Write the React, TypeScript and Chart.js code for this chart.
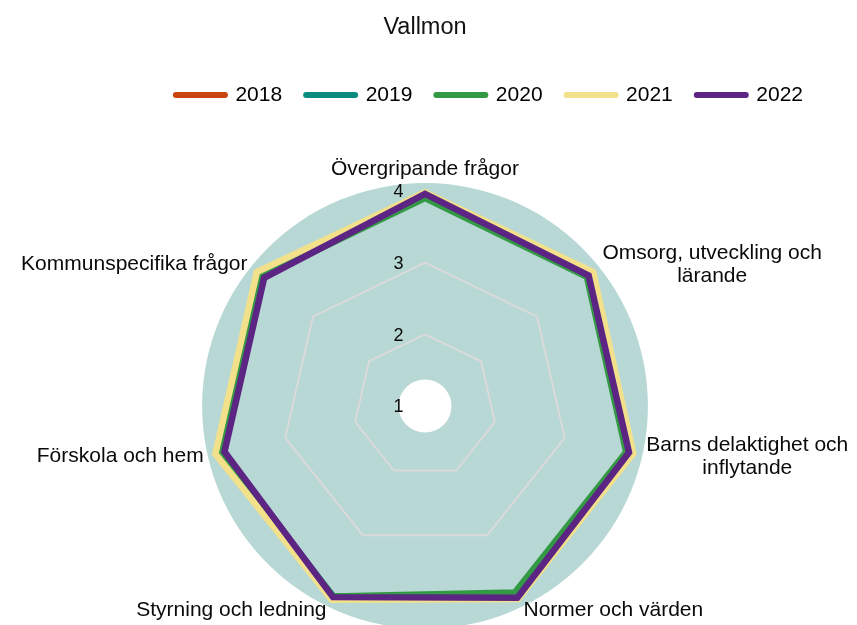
import React, { useEffect, useRef } from 'react';
import { Chart, registerables } from 'chart.js';

Chart.register(...registerables);

const chartTitle = 'Vallmon';

const categories: (string | string[])[] = [
  'Övergripande frågor',
  ['Omsorg, utveckling och', 'lärande'],
  ['Barns delaktighet och', 'inflytande'],
  'Normer och värden',
  'Styrning och ledning',
  'Förskola och hem',
  'Kommunspecifika frågor',
];

const seriesNames = ['2018', '2019', '2020', '2021', '2022'];

const values2018 = [3.94, 3.92, 3.91, 3.95, 3.96, 3.92, 3.93];
const values2019 = [3.94, 3.91, 3.91, 3.94, 3.95, 3.91, 3.92];
const values2020 = [3.90, 3.89, 3.88, 3.89, 3.95, 3.95, 3.90];
const values2021 = [3.98, 4.0, 3.98, 3.99, 4.0, 4.0, 4.0];
const values2022 = [3.96, 3.92, 3.92, 3.97, 3.96, 3.87, 3.87];

const seriesValues = [values2018, values2019, values2020, values2021, values2022];
const seriesColors = ['#C9450F', '#0A8B7F', '#339944', '#F3E08A', '#5C2483'];

const tickValues = [1, 2, 3, 4];
const scaleMin = 1;
const scaleMax = 4;

const FONT = "'Liberation Sans', Arial, sans-serif";

const backgroundPlugin = {
  id: 'polarBackground',
  beforeDraw(chart: any) {
    const s = chart.scales.r;
    if (!s) return;
    const ctx = chart.ctx;
    ctx.save();
    ctx.fillStyle = '#B7D8D4';
    ctx.beginPath();
    ctx.arc(s.xCenter, s.yCenter, s.getDistanceFromCenterForValue(4.11), 0, Math.PI * 2);
    ctx.fill();
    ctx.fillStyle = '#FFFFFF';
    ctx.beginPath();
    ctx.arc(s.xCenter, s.yCenter, s.getDistanceFromCenterForValue(1.37), 0, Math.PI * 2);
    ctx.fill();
    ctx.restore();
  },
};

const labelsPlugin = {
  id: 'customLabels',
  afterDraw(chart: any) {
    const s = chart.scales.r;
    if (!s) return;
    const ctx = chart.ctx;
    ctx.save();
    // point labels
    ctx.font = `21px ${FONT}`;
    ctx.fillStyle = '#0A0A0A';
    ctx.textBaseline = 'middle';
    ctx.textAlign = 'center';
    const lh = 23.5;
    const labels = chart.data.labels as (string | string[])[];
    labels.forEach((label, i) => {
      const pos = s.getPointPosition(i, s.drawingArea + 12);
      const lines = Array.isArray(label) ? label : [label];
      const widths = lines.map((t) => ctx.measureText(t).width);
      const blockW = Math.max(...widths);
      const blockH = lines.length * lh;
      const c = Math.cos(pos.angle);
      const sn = Math.sin(pos.angle);
      let left: number;
      let top: number;
      if (Math.abs(c) < 0.05) {
        left = pos.x - blockW / 2;
        top = sn < 0 ? pos.y - blockH + 2 : pos.y;
      } else {
        left = c > 0 ? pos.x : pos.x - blockW;
        top = pos.y - blockH / 2;
      }
      lines.forEach((t, j) => {
        ctx.fillText(t, left + blockW / 2, top + lh * (j + 0.5));
      });
    });
    // tick labels
    ctx.font = `18px ${FONT}`;
    ctx.textAlign = 'center';
    tickValues.forEach((v) => {
      const d = s.getDistanceFromCenterForValue(v);
      ctx.fillText(String(v), s.xCenter - 26.5, s.yCenter - d + 1.5);
    });
    ctx.restore();
  },
};

export default function App() {
  const canvasRef = useRef<HTMLCanvasElement | null>(null);

  useEffect(() => {
    if (!canvasRef.current) return;
    const datasets = seriesNames.map((name, i) => ({
      label: name,
      data: seriesValues[i],
      borderColor: seriesColors[i],
      backgroundColor: seriesColors[i],
      borderWidth: 6.5,
      borderJoinStyle: 'miter' as const,
      pointRadius: 0,
      pointHoverRadius: 0,
      fill: false,
      tension: 0,
      order: seriesNames.length - i,
    }));

    const chart = new Chart(canvasRef.current, {
      type: 'radar',
      data: { labels: categories as any, datasets },
      options: {
        responsive: true,
        maintainAspectRatio: false,
        animation: false,
        layout: { padding: { left: 23, right: 30, top: 0, bottom: 3 } },
        font: { family: FONT },
        plugins: {
          title: {
            display: true,
            text: chartTitle,
            color: '#111111',
            font: { size: 23.5, weight: 'normal', family: FONT },
            padding: { top: 13, bottom: 19.4 },
          },
          legend: {
            display: true,
            position: 'top',
            align: 'end',
            labels: {
              usePointStyle: true,
              pointStyleWidth: 49,
              boxHeight: 6,
              padding: 24,
              color: '#0A0A0A',
              font: { size: 21, family: FONT },
              generateLabels: (ch: any) =>
                ch.data.datasets.map((ds: any, i: number) => ({
                  text: ds.label,
                  fillStyle: ds.borderColor,
                  strokeStyle: ds.borderColor,
                  lineWidth: 6,
                  lineCap: 'round',
                  pointStyle: 'line',
                  hidden: false,
                  datasetIndex: i,
                })),
            },
          },
          subtitle: {
            display: true,
            text: ' ',
            weight: 500,
            font: { size: 12, family: FONT },
            padding: { top: 0, bottom: 60.1 },
          } as any,
          tooltip: { enabled: false },
        },
        scales: {
          r: {
            min: scaleMin,
            max: scaleMax,
            beginAtZero: false,
            ticks: { display: false, stepSize: 1 },
            pointLabels: { display: false },
            angleLines: { display: false },
            grid: {
              color: (c: any) =>
                c.tick && (c.tick.value === 2 || c.tick.value === 3) ? '#DADADA' : 'rgba(0,0,0,0)',
              lineWidth: 2,
            },
          },
        },
      },
      plugins: [backgroundPlugin, labelsPlugin],
    });
    return () => chart.destroy();
  }, []);

  return (
    <div style={{ position: 'fixed', left: 0, top: 0, width: 857, height: 625 }}>
      <canvas ref={canvasRef} />
    </div>
  );
}
